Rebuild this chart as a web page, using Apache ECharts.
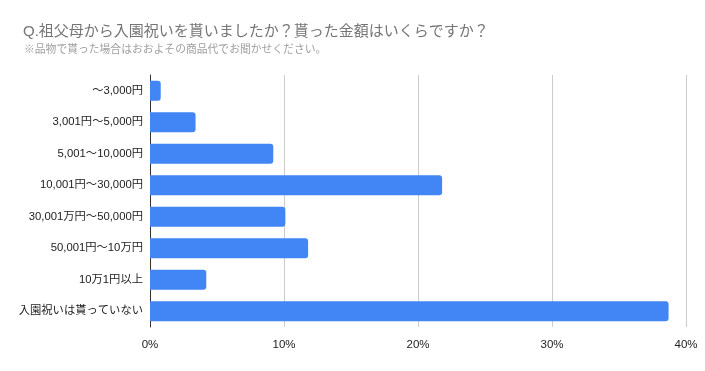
<!DOCTYPE html>
<html><head><meta charset="utf-8">
<script src="https://cdn.jsdelivr.net/npm/echarts@6/dist/echarts.min.js"></script>
<style>html,body{margin:0;padding:0;background:#fff}#c{width:705px;height:371px}</style>
</head><body><div id="c"></div>
<script>
const titleText = "Q.祖父母から入園祝いを貰いましたか？貰った金額はいくらですか？";
const subText = "※品物で貰った場合はおおよその商品代でお聞かせください。";
const categories = ["〜3,000円","3,001円〜5,000円","5,001〜10,000円","10,001円〜30,000円","30,001万円〜50,000円","50,001円〜10万円","10万1円以上","入園祝いは貰っていない"];
const values = [0.8, 3.4, 9.2, 21.8, 10.1, 11.8, 4.2, 38.7];
const xTicks = [0, 10, 20, 30, 40];
const FONT = 'Arial, "Liberation Sans", "Noto Sans CJK JP", sans-serif';
const chart = echarts.init(document.getElementById('c'), null, {renderer:'canvas'});
chart.setOption({
  animation:false,
  backgroundColor:'#fff',
  title:[
    {text:titleText,left:18,top:19,textStyle:{fontFamily:FONT,fontSize:15,fontWeight:'normal',color:'#757575'}},
    {text:subText,left:19,top:40,textStyle:{fontFamily:FONT,fontSize:10.8,fontWeight:'normal',color:'#9e9e9e'}}
  ],
  grid:{left:150,right:19,top:75,bottom:44,containLabel:false},
  xAxis:{type:'value',min:xTicks[0],max:xTicks[xTicks.length-1],interval:10,
    axisLabel:{formatter:'{value}%',fontFamily:FONT,fontSize:11.5,color:'#222',margin:12},
    splitLine:{show:true,lineStyle:{color:'#cccccc',width:1}},
    axisLine:{show:false},axisTick:{show:false}},
  yAxis:{type:'category',data:categories,inverse:true,
    axisLine:{show:true,lineStyle:{color:'#333',width:1}},
    axisTick:{show:false},
    axisLabel:{fontFamily:FONT,fontSize:11.3,color:'#222',margin:7}},
  series:[{type:'bar',data:values,barCategoryGap:'36%',
    itemStyle:{color:'#4285F4',borderRadius:[0,3,3,0]}}]
});
</script></body></html>
